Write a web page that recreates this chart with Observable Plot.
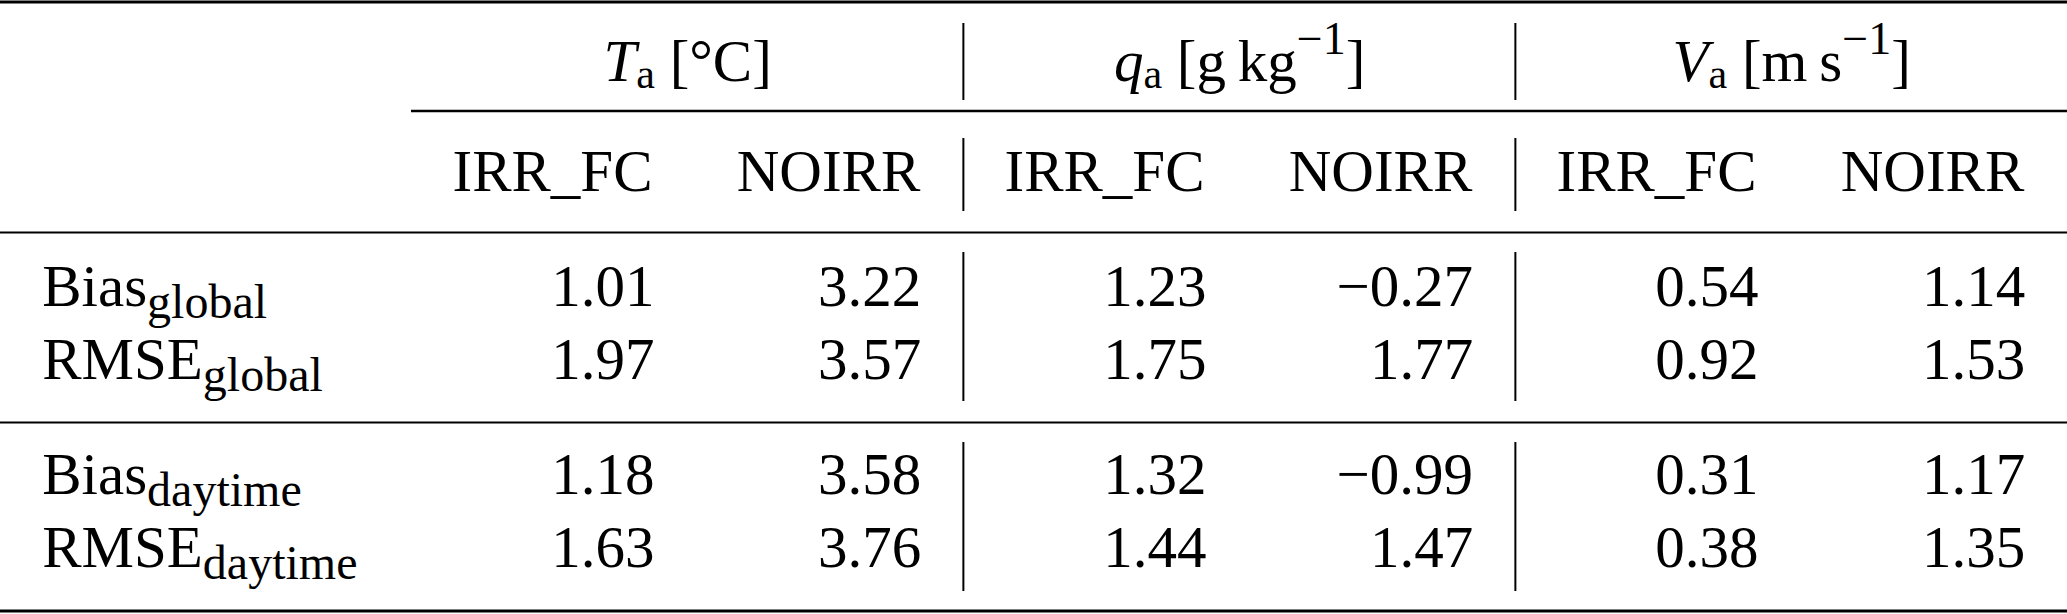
<!DOCTYPE html>
<html>
<head>
<meta charset="utf-8">
<script src="https://cdn.jsdelivr.net/npm/d3@7"></script>
<script src="https://cdn.jsdelivr.net/npm/@observablehq/plot@0.6"></script>
<style>
  html, body { margin: 0; padding: 0; background: #fff; }
  #chart svg { display: block; }
</style>
</head>
<body>
<div id="chart"></div>
<script>
// ---------- data ----------
const variables = ["Ta", "qa", "Va"];
const variableLabels = ["*T*_{a} [°C]", "*q*_{a} [g\u2009kg^{−1}]", "*V*_{a} [m\u2009s^{−1}]"];
const runs = ["IRR_FC", "NOIRR"];
const metricLabels = ["Bias_{global}", "RMSE_{global}", "Bias_{daytime}", "RMSE_{daytime}"];
const Ta_IRR_FC = [1.01, 1.97, 1.18, 1.63];
const Ta_NOIRR  = [3.22, 3.57, 3.58, 3.76];
const qa_IRR_FC = [1.23, 1.75, 1.32, 1.44];
const qa_NOIRR  = [-0.27, 1.77, -0.99, 1.47];
const Va_IRR_FC = [0.54, 0.92, 0.31, 0.38];
const Va_NOIRR  = [1.14, 1.53, 1.17, 1.35];
const seriesByColumn = {
  "Ta|IRR_FC": Ta_IRR_FC, "Ta|NOIRR": Ta_NOIRR,
  "qa|IRR_FC": qa_IRR_FC, "qa|NOIRR": qa_NOIRR,
  "Va|IRR_FC": Va_IRR_FC, "Va|NOIRR": Va_NOIRR
};

// ---------- layout ----------
const W = 2067, H = 614;
const FONT = "Liberation Serif, Times New Roman, serif";
const FS = 59;
const tableLeft = 410, tableRight = 2067.5;
const columns = variables.flatMap(v => runs.map(r => `${v}|${r}`));
const bw = (tableRight - tableLeft) / columns.length;
const L = {
  top: 1.5, head1: 80, cmid: 110.5, head2: 190, mid: 232,
  bodyTop: 305, lineSkip: 73.5, groupGap: 41, sep: 422, bottom: 610.5,
  vsegs: [[23, 100], [138, 211], [252, 401], [442, 591]]
};
const rowY = i => L.bodyTop + i * L.lineSkip + (i >= 2 ? L.groupGap : 0);

const cells = metricLabels.flatMap((m, i) => columns.map(c => ({
  row: i, col: c, run: c.split("|")[1], value: seriesByColumn[c][i]
})));
const fmt = d3.format(".2f");

const vlines = ["qa|IRR_FC", "Va|IRR_FC"].flatMap(c => L.vsegs.map(([a, b]) => ({c, a, b})));

const common = {fontFamily: FONT, fontSize: FS, fill: "black", lineAnchor: "bottom"};

const chart = Plot.plot({
  width: W, height: H,
  marginTop: 0, marginRight: 0, marginBottom: 0, marginLeft: 0,
  style: {background: "white", color: "black"},
  x: {type: "band", domain: columns, range: [tableLeft, tableRight], padding: 0, axis: null},
  y: {type: "linear", domain: [0, H], range: [0, H], axis: null},
  marks: [
    Plot.ruleY([L.top], {y: d => d, stroke: "black", strokeWidth: 3}),
    Plot.ruleY([L.cmid], {y: d => d, x1: () => columns[0], x2: () => columns[columns.length - 1], stroke: "black", strokeWidth: 2.5}),
    Plot.ruleY([L.mid, L.sep], {y: d => d, stroke: "black", strokeWidth: 2}),
    Plot.ruleY([L.bottom], {y: d => d, stroke: "black", strokeWidth: 3}),
    Plot.ruleX(vlines, {x: "c", y1: "a", y2: "b", dx: -bw / 2, stroke: "black", strokeWidth: 2}),
    // group headers
    Plot.text(variables, {...common, x: v => `${v}|IRR_FC`, y: () => L.head1, dx: bw / 2,
      text: (v, i) => variableLabels[i], textAnchor: "middle"}),
    // run sub-headers
    Plot.text(columns, {...common, x: c => c, y: () => L.head2, dx: 3,
      text: c => c.split("|")[1], textAnchor: "middle"}),
    // row labels
    Plot.text(metricLabels, {...common, frameAnchor: "left", y: (m, i) => rowY(i), dx: 41.7,
      text: m => m, textAnchor: "start"}),
    // values
    Plot.text(cells.filter(d => d.run === "IRR_FC"), {...common, x: "col", y: d => rowY(d.row),
      dx: 243 - bw / 2, text: d => fmt(d.value), textAnchor: "end"}),
    Plot.text(cells.filter(d => d.run === "NOIRR"), {...common, x: "col", y: d => rowY(d.row),
      dx: 510 - 1.5 * bw, text: d => fmt(d.value), textAnchor: "end"})
  ]
});

// ---------- rich text (italic / subscript / superscript) ----------
function richify(el, opt) {
  const s = el.textContent;
  const re = /\*([^*]+)\*|_\{([^}]*)\}|\^\{([^}]*)\}|([^*_^]+|[_^])/g;
  const parts = [];
  let m;
  while ((m = re.exec(s))) {
    if (m[1] != null) parts.push({t: m[1], italic: true});
    else if (m[2] != null) parts.push({t: m[2], shift: opt.subShift, size: opt.subSize});
    else if (m[3] != null) parts.push({t: m[3], shift: -opt.supShift, size: opt.supSize});
    else parts.push({t: m[4]});
  }
  el.textContent = "";
  let cur = 0;
  for (const p of parts) {
    const ts = document.createElementNS("http://www.w3.org/2000/svg", "tspan");
    const target = p.shift || 0;
    if (target !== cur) ts.setAttribute("dy", target - cur);
    cur = target;
    if (p.size) ts.setAttribute("font-size", p.size);
    if (p.italic) ts.setAttribute("font-style", "italic");
    ts.textContent = p.t;
    el.appendChild(ts);
  }
}
d3.select(chart).selectAll("text").each(function() {
  const s = this.textContent;
  if (metricLabels.includes(s)) richify(this, {subShift: 12, subSize: 48});
  else if (variableLabels.includes(s)) richify(this, {subShift: 7, subSize: 42, supShift: 27, supSize: 46});
});

document.getElementById("chart").appendChild(chart);
</script>
</body>
</html>
